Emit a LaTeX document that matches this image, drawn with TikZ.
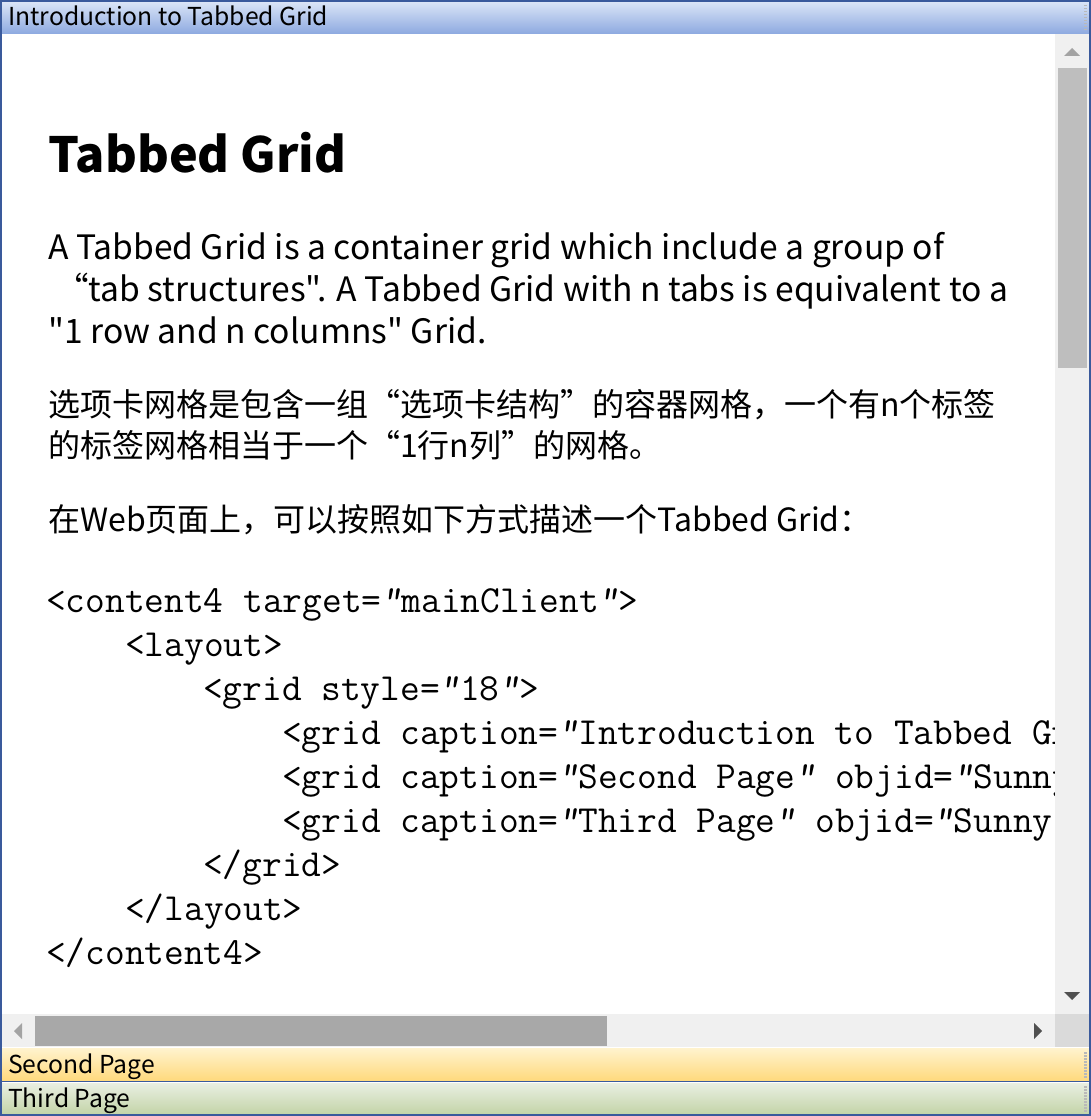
\documentclass[tikz,border=0pt]{standalone}
\usepackage{fontspec}
\newfontfamily\cjk{Noto Sans CJK SC}
\newcommand\qmark{{\slshape"}}
\definecolor{framec}{HTML}{3A5A9C}
\definecolor{titletop}{HTML}{DCE6F7}
\definecolor{titlebot}{HTML}{8DA9E0}
\definecolor{scrollbg}{HTML}{F0F0F0}
\definecolor{thumbv}{HTML}{BEBEBE}
\definecolor{thumbh}{HTML}{A8A8A8}
\definecolor{arrowlight}{HTML}{A3A3A3}
\definecolor{arrowdark}{HTML}{505050}
\definecolor{cornerc}{HTML}{DADADA}
\definecolor{tabatop}{HTML}{FFF3CE}
\definecolor{tababot}{HTML}{FFD97C}
\definecolor{tabbtop}{HTML}{E9EFE2}
\definecolor{tabbbot}{HTML}{C2D3A6}

\begin{document}
\begin{tikzpicture}[x=1pt, y=-1pt,
  bartext/.style={anchor=base west, inner sep=0pt, font=\cjk\fontsize{24.7}{28}\selectfont},
  body/.style={anchor=base west, inner sep=0pt, font=\cjk\fontsize{33.6}{40}\selectfont},
  zhbody/.style={anchor=base west, inner sep=0pt, font=\cjk\fontsize{32}{40}\selectfont},
  code/.style={anchor=base west, inner sep=0pt, font=\ttfamily\fontsize{38.3}{44}\selectfont},
  grip/.style={gray!55, line width=3pt, dash pattern=on 1.5pt off 1.5pt}]
\useasboundingbox (0,0) rectangle (1091,1116);
\fill[white] (0,0) rectangle (1091,1116);

% 标题栏
\shade[top color=titletop, bottom color=titlebot] (1,1) rectangle (1090,34);
\node[bartext] (title) at (8,26) {Introduction to Tabbed Grid};
\draw[grip] (1085,5) -- (1085,31);

% 正文
\node[body, font=\cjk\bfseries\fontsize{48.5}{58}\selectfont] (head) at (48,172) {Tabbed Grid};
\node[body] (p1a) at (48,259) {A Tabbed Grid is a container grid which include a group of};
\node[body] (p1b) at (55,301) {“tab structures". A Tabbed Grid with n tabs is equivalent to a};
\node[body] (p1c) at (48,343) {"1 row and n columns" Grid.};
\node[zhbody] (zh1) at (48,416) {选项卡网格是包含一组“选项卡结构”的容器网格，一个有n个标签};
\node[zhbody] (zh2) at (48,457) {的标签网格相当于一个“1行n列”的网格。};
\node[zhbody] (web) at (48,531) {在Web页面上，可以按照如下方式描述一个Tabbed Grid：};

% 代码
\begin{scope}
\clip (2,34) rectangle (1055,1014);
\node[code] (c1) at (46,612) {<content4 target=\qmark mainClient\qmark>};
\node[code] (c2) at (125,656) {<layout>};
\node[code] (c3) at (203,700) {<grid style=\qmark 18\qmark>};
\node[code] (c4) at (282,744) {<grid caption=\qmark Introduction to Tabbed Grid\qmark};
\node[code] (c5) at (282,788) {<grid caption=\qmark Second Page\qmark{} objid=\qmark Sunny};
\node[code] (c6) at (282,832) {<grid caption=\qmark Third Page\qmark{} objid=\qmark Sunny};
\node[code] (c7) at (203,876) {</grid>};
\node[code] (c8) at (125,920) {</layout>};
\node[code] (c9) at (46,964) {</content4>};
\end{scope}

% 滚动条
\fill[scrollbg] (1055,34) rectangle (1089,1014);
\fill[thumbv] (1058,68) rectangle (1087,368);
\fill[arrowlight] (1064,56) -- (1072,48) -- (1080,56) -- cycle;
\fill[arrowdark] (1064,992) -- (1080,992) -- (1072,1000) -- cycle;
\fill[scrollbg] (2,1014) rectangle (1055,1047);
\fill[thumbh] (35,1016) rectangle (607,1046);
\fill[arrowlight] (22,1023) -- (14,1031) -- (22,1039) -- cycle;
\fill[arrowdark] (1034,1023) -- (1042,1031) -- (1034,1039) -- cycle;
\fill[cornerc] (1055,1014) rectangle (1089,1047);

% 选项卡
\shade[top color=tabatop, bottom color=tababot] (1,1048) rectangle (1090,1081);
\node[bartext] (taba) at (8,1073) {Second Page};
\draw[grip] (1085,1052) -- (1085,1078);
\draw[framec, line width=1.5pt] (1,1081.5) -- (1090,1081.5);
\shade[top color=tabbtop, bottom color=tabbbot] (1,1083) rectangle (1090,1115);
\node[bartext] (tabb) at (8,1107) {Third Page};
\draw[grip] (1085,1086) -- (1085,1112);

% 外框
\draw[framec, line width=2pt] (1,1) rectangle (1090,1115);
\end{tikzpicture}
\end{document}
